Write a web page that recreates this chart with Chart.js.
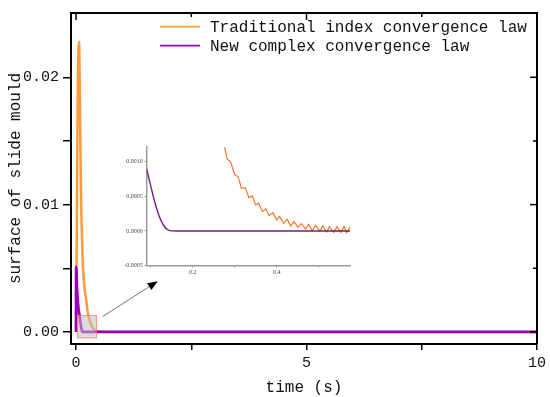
<!DOCTYPE html>
<html>
<head>
<meta charset="utf-8">
<script src="https://cdn.jsdelivr.net/npm/chart.js@4/dist/chart.umd.min.js"></script>
<style>
  body { margin: 0; background: #fff; }
  #wrap { position: relative; width: 550px; height: 397px; }
  #main { position: absolute; left: 0; top: 0; }
  #inset { position: absolute; left: 100px; top: 130px; }
</style>
</head>
<body>
<div id="wrap">
  <canvas id="main" width="550" height="397"></canvas>
  <canvas id="inset" width="255" height="150"></canvas>
</div>
<script>
// main plot data (time in s, surface of slide mould)
const tradTime = [0, 0.01, 0.02, 0.03, 0.04, 0.05, 0.06, 0.07, 0.08, 0.09, 0.10, 0.11, 0.12, 0.14, 0.16, 0.18, 0.20, 0.22, 0.24, 0.26, 0.28, 0.30, 0.35, 0.40, 0.50, 0.60, 10];
const tradValue = [0, 0.0050, 0.0105, 0.0160, 0.0200, 0.0220, 0.0228, 0.0222, 0.0192, 0.0158, 0.0128, 0.0102, 0.0085, 0.0058, 0.0045, 0.0036, 0.0030, 0.0025, 0.0019, 0.0014, 0.0011, 0.0008, 0.0004, 0.00016, 0.00003, 0, 0];
const newTime = [0, 0.001, 0.02, 0.04, 0.06, 0.08, 0.09, 0.10, 0.11, 0.12, 0.135, 0.15, 0.16, 10];
const newValue = [0, 0.0051, 0.0034, 0.0023, 0.0016, 0.0012, 0.0009, 0.00065, 0.0004, 0.0002, 0.00005, 0.00001, 0, 0];

const xTicks = [0, 2.5, 5, 7.5, 10];
const yTicks = [0, 0.005, 0.01, 0.015, 0.02];
const xLabels = { 0: '0', 5: '5', 10: '10' };
const yLabels = { 0: '0.00', 0.01: '0.01', 0.02: '0.02' };

// zoomed region marked on the main plot, and the arrow pointing to the inset
const zoomBoxX = [0.033, 0.445];
const zoomBoxY = [-0.00048, 0.00128];
const arrowX = [0.575, 1.77];
const arrowY = [0.0012, 0.00398];

// inset data
const insetTradTime = [0.276, 0.282, 0.290, 0.300, 0.308, 0.316, 0.325, 0.334, 0.342, 0.350, 0.357, 0.366, 0.374, 0.382, 0.391, 0.400, 0.407, 0.417, 0.425, 0.434, 0.441, 0.451, 0.459, 0.469, 0.476, 0.485, 0.493, 0.503, 0.510, 0.519, 0.526, 0.536, 0.544, 0.553, 0.561, 0.567, 0.575];
const insetTradValue = [0.001207, 0.001034, 0.001, 0.000808, 0.000784, 0.000615, 0.000625, 0.000481, 0.000505, 0.000375, 0.0004, 0.000279, 0.000322, 0.000221, 0.000264, 0.000159, 0.000207, 0.000111, 0.000168, 0.000072, 0.000135, 0.000053, 0.000106, 0.000029, 0.000096, 0.000005, 0.000082, -0.000005, 0.000072, -0.000014, 0.000062, -0.000019, 0.000062, -0.000024, 0.000062, -0.000024, 0.000053];
const insetNewTime = [0.09, 0.098, 0.110, 0.122, 0.134, 0.145, 0.16, 0.575];
const insetNewValue = [0.00089, 0.00069, 0.0004, 0.00018, 0.00005, 0.000005, 0, 0];
const insetXTicks = [0.1, 0.2, 0.3, 0.4, 0.5];
const insetYTicks = [-0.0005, 0, 0.0005, 0.001];

const monoFont = 'Liberation Mono';
const toPoints = (xs, ys) => xs.map((x, i) => ({ x: x, y: ys[i] }));

const framePlugin = {
    id: 'frame',
    afterDatasetsDraw(chart) {
        const ctx = chart.ctx;
        const a = chart.chartArea;
        const xs = chart.scales.x, ys = chart.scales.y;

        // zoom box
        const bx0 = xs.getPixelForValue(zoomBoxX[0]), bx1 = xs.getPixelForValue(zoomBoxX[1]);
        const by0 = ys.getPixelForValue(zoomBoxY[1]), by1 = ys.getPixelForValue(zoomBoxY[0]);
        ctx.save();
        ctx.fillStyle = 'rgba(190,190,190,0.55)';
        ctx.fillRect(bx0, by0, bx1 - bx0, by1 - by0);
        ctx.strokeStyle = 'rgba(255,110,110,0.7)';
        ctx.lineWidth = 1;
        ctx.strokeRect(bx0, by0, bx1 - bx0, by1 - by0);

        // arrow
        const ax0 = xs.getPixelForValue(arrowX[0]), ay0 = ys.getPixelForValue(arrowY[0]);
        const ax1 = xs.getPixelForValue(arrowX[1]), ay1 = ys.getPixelForValue(arrowY[1]);
        const ang = Math.atan2(ay1 - ay0, ax1 - ax0);
        ctx.strokeStyle = '#777';
        ctx.lineWidth = 1;
        ctx.beginPath();
        ctx.moveTo(ax0, ay0);
        ctx.lineTo(ax1 - 8 * Math.cos(ang), ay1 - 8 * Math.sin(ang));
        ctx.stroke();
        ctx.fillStyle = '#000';
        ctx.beginPath();
        ctx.moveTo(ax1, ay1);
        ctx.lineTo(ax1 - 10 * Math.cos(ang) + 4 * Math.sin(ang), ay1 - 10 * Math.sin(ang) - 4 * Math.cos(ang));
        ctx.lineTo(ax1 - 10 * Math.cos(ang) - 4 * Math.sin(ang), ay1 - 10 * Math.sin(ang) + 4 * Math.cos(ang));
        ctx.closePath();
        ctx.fill();

        // frame on top and right with inward ticks
        ctx.strokeStyle = '#000';
        ctx.lineWidth = 2;
        ctx.beginPath();
        ctx.moveTo(a.left, a.top);
        ctx.lineTo(a.right, a.top);
        ctx.lineTo(a.right, a.bottom);
        ctx.stroke();
        ctx.lineWidth = 1.5;
        xTicks.forEach(v => {
            const px = xs.getPixelForValue(v);
            const len = (v % 5 === 0) ? 7 : 4;
            ctx.beginPath();
            ctx.moveTo(px, a.top);
            ctx.lineTo(px, a.top + len);
            ctx.stroke();
        });
        yTicks.forEach(v => {
            const py = ys.getPixelForValue(v);
            const len = yLabels[v] ? 7 : 4;
            ctx.beginPath();
            ctx.moveTo(a.right, py);
            ctx.lineTo(a.right - len, py);
            ctx.stroke();
        });

        // legend
        ctx.font = '16px ' + monoFont;
        ctx.textBaseline = 'middle';
        chart.data.datasets.forEach((ds, i) => {
            const ly = 26.7 + i * 19;
            ctx.strokeStyle = ds.borderColor;
            ctx.lineWidth = 1.8;
            ctx.beginPath();
            ctx.moveTo(160, ly);
            ctx.lineTo(200, ly);
            ctx.stroke();
            ctx.fillStyle = '#111';
            ctx.fillText(ds.label, 210, ly + 1);
        });
        ctx.restore();
    }
};

new Chart(document.getElementById('main'), {
    type: 'line',
    data: {
        datasets: [
            {
                label: 'Traditional index convergence law',
                data: toPoints(tradTime, tradValue),
                borderColor: '#ff9a3c',
                borderWidth: 2.5,
                pointRadius: 0,
                order: 1,
                cubicInterpolationMode: 'monotone'
            },
            {
                label: 'New complex convergence law',
                data: toPoints(newTime, newValue),
                borderColor: '#9900b8',
                borderWidth: 2.8,
                pointRadius: 0,
                order: 0,
                cubicInterpolationMode: 'monotone'
            }
        ]
    },
    options: {
        responsive: false,
        animation: false,
        layout: { padding: { top: 5, right: 13, left: 0, bottom: 0 } },
        plugins: { legend: { display: false }, tooltip: { enabled: false } },
        scales: {
            x: {
                type: 'linear',
                min: -0.11,
                max: 10,
                afterFit: s => { s.height = 53; },
                afterBuildTicks: s => { s.ticks = xTicks.map(v => ({ value: v })); },
                grid: { drawOnChartArea: false, tickLength: 6, color: '#000', lineWidth: 1.5 },
                border: { color: '#000', width: 2 },
                ticks: {
                    autoSkip: false, maxRotation: 0, padding: 4, color: '#111',
                    font: { family: monoFont, size: 15 },
                    callback: v => xLabels[v] || ''
                },
                title: { display: true, text: 'time (s)', color: '#111', font: { family: monoFont, size: 16 }, padding: { top: 0, bottom: 0 } }
            },
            y: {
                min: -0.00095,
                max: 0.02505,
                afterFit: s => { s.width = 71; },
                afterBuildTicks: s => { s.ticks = yTicks.map(v => ({ value: v })); },
                grid: { drawOnChartArea: false, tickLength: 8, color: '#000', lineWidth: 1.5 },
                border: { color: '#000', width: 2 },
                ticks: {
                    autoSkip: false, padding: 4, color: '#111',
                    font: { family: monoFont, size: 15 },
                    callback: v => yLabels[v] || ''
                },
                title: { display: true, text: 'surface of slide mould', color: '#111', font: { family: monoFont, size: 16 }, padding: { top: 6, bottom: 0 } }
            }
        }
    },
    plugins: [framePlugin]
});

new Chart(document.getElementById('inset'), {
    type: 'line',
    data: {
        datasets: [
            {
                data: toPoints(insetNewTime, insetNewValue),
                borderColor: '#6e1f80',
                borderWidth: 1.4,
                pointRadius: 0,
                cubicInterpolationMode: 'monotone'
            },
            {
                data: toPoints(insetTradTime, insetTradValue),
                borderColor: '#f0782a',
                borderWidth: 1.2,
                pointRadius: 0,
                tension: 0
            }
        ]
    },
    options: {
        responsive: false,
        animation: false,
        layout: { padding: { top: 17, right: 5, left: 0, bottom: 0 } },
        plugins: { legend: { display: false }, tooltip: { enabled: false } },
        scales: {
            x: {
                type: 'linear',
                min: 0.09,
                max: 0.575,
                afterFit: s => { s.height = 14.3; },
                afterBuildTicks: s => { s.ticks = insetXTicks.map(v => ({ value: v })); },
                grid: { drawOnChartArea: false, tickLength: 2, color: '#888', lineWidth: 1 },
                border: { color: '#999', width: 1.5 },
                ticks: {
                    autoSkip: false, maxRotation: 0, padding: 1, color: '#444',
                    font: { family: 'Liberation Serif', size: 6 },
                    callback: v => (Math.abs(v - 0.2) < 1e-9 || Math.abs(v - 0.4) < 1e-9) ? v.toFixed(1) : ''
                }
            },
            y: {
                min: -0.0005,
                max: 0.00121,
                afterFit: s => { s.width = 46.7; },
                afterBuildTicks: s => { s.ticks = insetYTicks.map(v => ({ value: v })); },
                grid: { drawOnChartArea: false, tickLength: 2, color: '#888', lineWidth: 1 },
                border: { color: '#999', width: 1.5 },
                ticks: {
                    autoSkip: false, padding: 2, color: '#444',
                    font: { family: 'Liberation Serif', size: 6 },
                    callback: v => v.toFixed(4)
                }
            }
        }
    }
});
</script>
</body>
</html>
